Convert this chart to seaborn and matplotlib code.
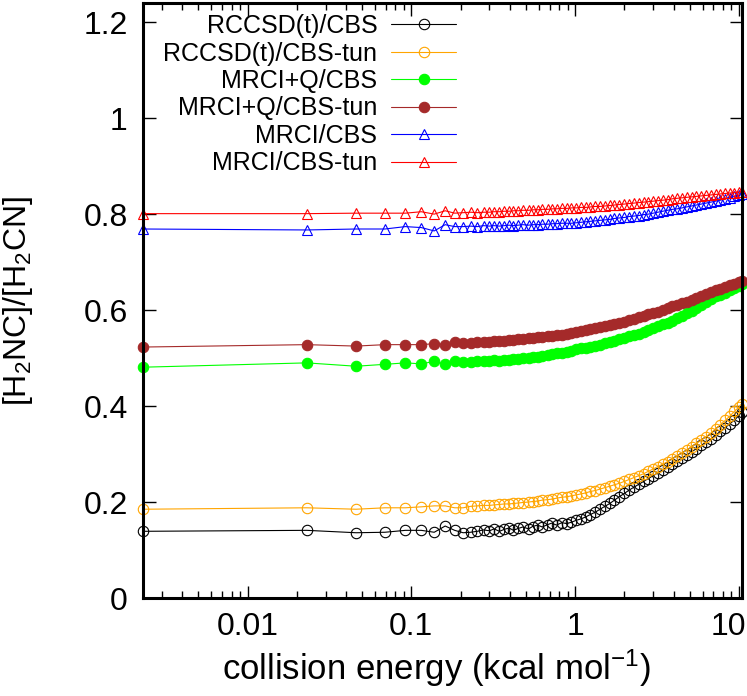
import matplotlib
matplotlib.use("Agg")
import matplotlib.pyplot as plt
import matplotlib.transforms as mtransforms
import seaborn as sns
import pandas as pd
from matplotlib.ticker import LogLocator, NullFormatter

# collision energies (kcal/mol)
energy = [0.0023, 0.023, 0.046, 0.069, 0.092, 0.115, 0.138, 0.161, 0.184, 0.207,
          0.230, 0.253, 0.276, 0.30, 0.32, 0.345, 0.37, 0.395, 0.42, 0.45,
          0.48, 0.52, 0.55, 0.59, 0.63, 0.68, 0.72, 0.77, 0.83, 0.89,
          0.95, 1.02, 1.09, 1.16, 1.24, 1.33, 1.42, 1.52, 1.63, 1.74,
          1.86, 2.0, 2.14, 2.29, 2.45, 2.62, 2.8, 3.0, 3.2, 3.43,
          3.67, 3.93, 4.2, 4.5, 4.8, 5.15, 5.5, 5.9, 6.3, 6.75,
          7.2, 7.7, 8.25, 8.8, 9.4, 10.0, 10.4]

rccsd = [0.139, 0.141, 0.136, 0.137, 0.141, 0.141, 0.137, 0.150, 0.141, 0.136,
         0.137, 0.139, 0.142, 0.140, 0.144, 0.139, 0.143, 0.146, 0.141, 0.145,
         0.148, 0.144, 0.149, 0.152, 0.148, 0.153, 0.156, 0.152, 0.157, 0.155,
         0.158, 0.162, 0.165, 0.169, 0.174, 0.179, 0.185, 0.191, 0.197, 0.204,
         0.211, 0.218, 0.225, 0.231, 0.237, 0.243, 0.249, 0.255, 0.261, 0.267,
         0.274, 0.280, 0.286, 0.292, 0.298, 0.305, 0.311, 0.318, 0.325, 0.332,
         0.339, 0.347, 0.355, 0.363, 0.371, 0.380, 0.388]

rccsd_tun = [0.185, 0.188, 0.185, 0.188, 0.188, 0.190, 0.192, 0.192, 0.188, 0.188,
             0.191, 0.192, 0.193, 0.193, 0.194, 0.195, 0.196, 0.196, 0.197, 0.198,
             0.199, 0.200, 0.201, 0.202, 0.204, 0.205, 0.206, 0.208, 0.210, 0.211,
             0.213, 0.215, 0.217, 0.219, 0.222, 0.224, 0.227, 0.230, 0.233, 0.236,
             0.239, 0.243, 0.247, 0.251, 0.255, 0.259, 0.264, 0.269, 0.274, 0.279,
             0.284, 0.290, 0.296, 0.302, 0.308, 0.315, 0.322, 0.329, 0.336, 0.344,
             0.352, 0.361, 0.370, 0.379, 0.389, 0.398, 0.405]

mrciq = [0.481, 0.490, 0.483, 0.487, 0.490, 0.488, 0.493, 0.487, 0.493, 0.491,
         0.492, 0.494, 0.493, 0.494, 0.495, 0.494, 0.496, 0.497, 0.498, 0.498,
         0.500, 0.501, 0.502, 0.503, 0.505, 0.506, 0.508, 0.510, 0.511, 0.513,
         0.515, 0.518, 0.520, 0.522, 0.524, 0.526, 0.528, 0.531, 0.533, 0.536,
         0.539, 0.542, 0.545, 0.548, 0.551, 0.555, 0.558, 0.562, 0.566, 0.570,
         0.574, 0.578, 0.583, 0.588, 0.593, 0.599, 0.605, 0.611, 0.617, 0.623,
         0.629, 0.632, 0.636, 0.641, 0.646, 0.651, 0.655]

mrciq_tun = [0.523, 0.528, 0.525, 0.528, 0.528, 0.528, 0.530, 0.528, 0.533, 0.531,
             0.532, 0.533, 0.533, 0.534, 0.535, 0.535, 0.536, 0.537, 0.538, 0.539,
             0.540, 0.541, 0.542, 0.543, 0.544, 0.545, 0.546, 0.548, 0.549, 0.551,
             0.552, 0.554, 0.556, 0.558, 0.560, 0.562, 0.564, 0.566, 0.568, 0.570,
             0.573, 0.576, 0.579, 0.582, 0.585, 0.588, 0.591, 0.594, 0.597, 0.600,
             0.604, 0.608, 0.610, 0.614, 0.617, 0.621, 0.625, 0.629, 0.633, 0.637,
             0.641, 0.645, 0.649, 0.652, 0.655, 0.658, 0.660]

mrci = [0.769, 0.767, 0.769, 0.769, 0.774, 0.772, 0.765, 0.778, 0.774, 0.774,
        0.775, 0.774, 0.776, 0.775, 0.776, 0.775, 0.776, 0.777, 0.776, 0.777,
        0.778, 0.777, 0.778, 0.778, 0.779, 0.779, 0.780, 0.780, 0.781, 0.781,
        0.781, 0.782, 0.783, 0.784, 0.785, 0.786, 0.787, 0.788, 0.789, 0.791,
        0.792, 0.793, 0.795, 0.796, 0.797, 0.799, 0.800, 0.802, 0.804, 0.806,
        0.808, 0.810, 0.811, 0.813, 0.815, 0.817, 0.819, 0.821, 0.823, 0.825,
        0.827, 0.829, 0.832, 0.834, 0.837, 0.839, 0.841]

mrci_tun = [0.801, 0.801, 0.802, 0.802, 0.802, 0.805, 0.800, 0.807, 0.802, 0.803,
            0.804, 0.803, 0.804, 0.804, 0.805, 0.805, 0.806, 0.806, 0.807, 0.807,
            0.808, 0.808, 0.809, 0.809, 0.810, 0.810, 0.811, 0.811, 0.812, 0.812,
            0.813, 0.813, 0.814, 0.814, 0.815, 0.816, 0.816, 0.817, 0.818, 0.819,
            0.820, 0.821, 0.822, 0.823, 0.824, 0.825, 0.826, 0.827, 0.828, 0.829,
            0.830, 0.832, 0.833, 0.834, 0.835, 0.836, 0.837, 0.838, 0.839, 0.840,
            0.841, 0.842, 0.843, 0.844, 0.845, 0.846, 0.847]

labels = ["RCCSD(t)/CBS", "RCCSD(t)/CBS-tun", "MRCI+Q/CBS",
          "MRCI+Q/CBS-tun", "MRCI/CBS", "MRCI/CBS-tun"]
series = [rccsd, rccsd_tun, mrciq, mrciq_tun, mrci, mrci_tun]
colors = ["black", "#ffa500", "#00ff00", "#a52a2a", "#0000ff", "#ff0000"]
markers = ["o", "o", "o", "o", "^", "^"]
filled = [False, False, True, True, False, False]

xticks = [0.01, 0.1, 1, 10]
xticklabels = ["0.01", "0.1", "1", "10"]
yticks = [0, 0.2, 0.4, 0.6, 0.8, 1.0, 1.2]
yticklabels = ["0", "0.2", "0.4", "0.6", "0.8", "1", "1.2"]

sns.set_style("ticks", {"axes.edgecolor": "black", "text.color": "black",
                        "xtick.color": "black", "ytick.color": "black",
                        "axes.labelcolor": "black"})
plt.rcParams["font.family"] = ["Liberation Sans", "DejaVu Sans"]
plt.rcParams["mathtext.fontset"] = "custom"
plt.rcParams["mathtext.rm"] = "Liberation Sans"
plt.rcParams["mathtext.it"] = "Liberation Sans"
plt.rcParams["mathtext.default"] = "regular"

fig = plt.figure(figsize=(7.47, 6.96), dpi=100)
ax = fig.add_axes([143 / 747, 1 - 598 / 696, 599 / 747, 595 / 696])

for lab, vals, col, mk, fl in zip(labels, series, colors, markers, filled):
    df = pd.DataFrame({"energy": energy, "ratio": vals})
    sns.lineplot(data=df, x="energy", y="ratio", ax=ax, color=col, lw=0.8,
                 marker=mk, markersize=7.5 if mk == "o" else 6.5,
                 markerfacecolor=col if fl else "none", markeredgecolor=col,
                 markeredgewidth=0.8, errorbar=None, label=lab, clip_on=False)

ax.set_xscale("log")
ax.set_xlim(0.0023, 10.45)
ax.set_ylim(0, 1.24)
ax.set_xticks(xticks)
ax.set_xticklabels(xticklabels)
ax.xaxis.set_minor_locator(LogLocator(base=10, subs=range(2, 10), numticks=20))
ax.xaxis.set_minor_formatter(NullFormatter())
ax.set_yticks(yticks)
ax.set_yticklabels(yticklabels)

ax.tick_params(which="both", direction="in", top=True, right=True, width=1.0)
ax.tick_params(which="major", length=9, labelsize=23)
ax.tick_params(which="minor", length=5)
ax.tick_params(axis="x", which="major", pad=10)
ax.tick_params(axis="y", which="major", pad=11)
for s in ax.spines.values():
    s.set_linewidth(2.2)

# keep the "10" label inside the canvas
lab10 = ax.xaxis.get_major_ticks()[-1].label1
lab10.set_horizontalalignment("right")
lab10.set_transform(lab10.get_transform() +
                    mtransforms.ScaledTranslation(7 / 100, 0, fig.dpi_scale_trans))

ax.set_xlabel("collision energy (kcal mol$^{-1}$)", fontsize=25)
ax.set_ylabel("[H$_2$NC]/[H$_2$CN]", fontsize=23)
ax.xaxis.set_label_coords(0.49, -0.083)
ax.yaxis.set_label_coords(-0.18, 0.5)

leg = ax.legend(loc="upper right", bbox_to_anchor=(456 / 747, 1 - 14 / 696),
                bbox_transform=fig.transFigure, frameon=False, markerfirst=False,
                fontsize=18, handlelength=2.6, handletextpad=0.55,
                labelspacing=0.14, borderpad=0, borderaxespad=0)

fig.savefig("out.png", dpi=100)
